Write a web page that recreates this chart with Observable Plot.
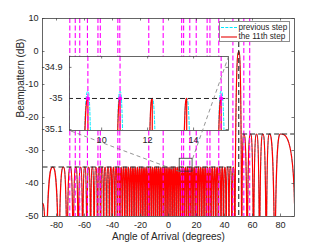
<!DOCTYPE html>
<html><head><meta charset="utf-8">
<script src="https://cdn.jsdelivr.net/npm/d3@7"></script>
<script src="https://cdn.jsdelivr.net/npm/@observablehq/plot@0.6"></script>
<style>
body{margin:0;background:#fff;}
#wrap{position:relative;width:325px;height:244px;overflow:hidden;font-family:"Liberation Sans",Arial,sans-serif;}
#wrap svg{position:absolute;}
#legend{position:absolute;left:219px;top:21px;width:71px;height:21px;border:0.8px solid #8c8c8c;background:#fff;box-sizing:border-box;}
#legend .sw{position:absolute;left:1px;width:16px;height:0;}
#legend .tx{position:absolute;left:18.5px;font-size:8.2px;line-height:10px;color:#262626;white-space:nowrap;}
</style></head>
<body><div id="wrap"></div>
<script>
// ---------------- data ----------------
const seriesNames = ["previous step", "the 11th step"];
const edgeAngles = [-90, 90];
const edgeDb = [-46, -46];
const nullFloorDb = -80;
const nullAngles = [-87.5, -78.3, -72.5, -68.1, -64.5, -61.3, -58.3, -55.6, -53.1, -50.7,
  -48.5, -46.3, -44.2, -42.2, -40.3, -38.4, -36.5, -34.7, -33.0, -31.2,
  -29.5, -27.8, -26.2, -24.6, -23.0, -21.4, -19.8, -18.3, -16.7, -15.2,
  -13.7, -12.2, -10.7, -9.2, -7.7, -6.2, -4.8, -3.3, -1.8, -0.4,
  1.1, 2.6, 4.0, 5.5, 7.0, 8.5, 10.1, 11.5, 13.0, 14.5,
  16.0, 17.5, 19.1, 20.6, 22.2, 23.8, 25.4, 27.0, 28.7, 30.4,
  32.1, 33.8, 35.6, 37.5, 39.3, 41.2, 43.2, 45.3,
  47.4, 52.3, 56.2, 60.7, 65.0, 69.8, 75.9];
const peakAngles = [-82.7, -75.1, -70.2, -66.2, -62.8, -59.8, -57.0, -54.4, -51.9, -49.6,
  -47.4, -45.3, -43.2, -41.2, -39.3, -37.4, -35.6, -33.8, -32.1, -30.4,
  -28.7, -27.0, -25.4, -23.8, -22.2, -20.6, -19.0, -17.5, -16.0, -14.4,
  -12.9, -11.4, -9.9, -8.5, -7.0, -5.5, -4.0, -2.6, -1.1, 0.4,
  1.8, 3.3, 4.8, 6.2, 7.7, 9.4, 10.8, 12.2, 13.7, 15.2,
  16.7, 18.3, 19.8, 21.4, 23.0, 24.6, 26.2, 27.9, 29.5, 31.2,
  33.0, 34.7, 36.5, 38.4, 40.3, 42.2, 44.2, 46.3,
  50.2, 53.8, 58.6, 62.9, 67.4, 72.1, 80.0];
const peakDb = [-35, -35, -35, -35, -35, -35, -35, -35, -35, -35,
  -35, -35, -35, -35, -35, -35, -35, -35, -35, -35,
  -35, -35, -35, -35, -35, -35, -35, -35, -35, -35,
  -35, -35, -35, -35, -35, -35, -35, -35, -35, -35,
  -35, -35, -35, -35, -35, -35, -35, -35, -35, -35,
  -35, -35, -35, -35, -35, -35, -35, -35, -35, -35,
  -35, -35, -35, -35, -35, -35, -35, -35,
  0, -25, -25, -25, -25, -25, -25];
const previousPeakAngles = [9.4, 10.8, 15.2];
const previousPeakDb = [-34.977, -34.977, -34.976];
const constraintAngles = [-70.5, -66.6, -63.4, -57.9, -50.4, -48.7, -36.2, -34.8, -14.1, -3.8,
  9.4, 10.8, 15.2, 19.8, 27.6, 29.6, 35.9, 46.0, 53.8, 58.0];
const targetAngles = [50.2];
const maskStart = [-90, 52.6];
const maskEnd = [46.2, 90];
const maskDb = [-35, -25];
const zoomBoxAngles = [8.0, 17.2];
const zoomBoxDb = [-36.4, -32.5];
const xTicks = [-80, -60, -40, -20, 0, 20, 40, 60, 80];
const yTicks = [-50, -40, -30, -20, -10, 0, 10];
const insetXTicks = [10, 12, 14];
const insetYTicks = [-35.1, -35, -34.9];
const xDomain = [-90, 90], yDomain = [-50, 10];
const insetXDomain = [8.6, 15.52], insetYDomain = [-35.103, -34.865];

// ---------------- layout / style ----------------
const W = 325, H = 244;
const M = {left: 42, right: 31, top: 18, bottom: 28};
const INS = {left: 69, top: 56, width: 159, height: 74, ml: 32, mr: 2, mt: 2, mb: 16};
const TICK_PX = 2.5;
const AX = "#404040";
const FONT = "'Liberation Sans', Arial, sans-serif";

// ---------------- tables built from the arrays ----------------
const current = [{a: edgeAngles[0], db: edgeDb[0]}];
peakAngles.forEach((p, i) => {
  current.push({a: nullAngles[i], db: nullFloorDb});
  current.push({a: p, db: peakDb[i]});
});
current.push({a: edgeAngles[1], db: edgeDb[1]});
const previous = current.map(d => {
  const j = previousPeakAngles.indexOf(d.a);
  return j >= 0 ? {a: d.a, db: previousPeakDb[j]} : d;
});
const maskAt = a => { for (let i = 0; i < maskDb.length; i++) if (a >= maskStart[i] && a <= maskEnd[i]) return maskDb[i]; return null; };

// beampattern-like lobe curve: steep near nulls, flat at peaks
function lobeCurve(context) {
  let px, py, n = 0;
  return {
    areaStart() {}, areaEnd() {},
    lineStart() { n = 0; },
    lineEnd() {},
    point(x, y) {
      x = +x; y = +y;
      if (n === 0) context.moveTo(x, y);
      else {
        const dx = x - px;
        if (y < py) context.bezierCurveTo(px + 0.1 * dx, y, px + 0.66 * dx, y, x, y);
        else context.bezierCurveTo(px + 0.34 * dx, py, px + 0.9 * dx, py, x, y);
      }
      px = x; py = y; n++;
    }
  };
}

function tickRules(xt, yt, xd, yd, w, h) {
  const tx = TICK_PX * (xd[1] - xd[0]) / w;
  const ty = TICK_PX * (yd[1] - yd[0]) / h;
  const o = {stroke: AX, strokeWidth: 0.7};
  return [
    Plot.ruleX(xt, {x: d => d, y1: () => yd[0], y2: () => yd[0] + ty, ...o}),
    Plot.ruleX(xt, {x: d => d, y1: () => yd[1], y2: () => yd[1] - ty, ...o}),
    Plot.ruleY(yt, {y: d => d, x1: () => xd[0], x2: () => xd[0] + tx, ...o}),
    Plot.ruleY(yt, {y: d => d, x1: () => xd[1], x2: () => xd[1] - tx, ...o})
  ];
}

function dataMarks(clip) {
  return [
    Plot.line(previous, {x: "a", y: "db", stroke: "#00e8ff", strokeWidth: 1, strokeDasharray: "3,2", curve: lobeCurve, clip}),
    Plot.line(current, {x: "a", y: "db", stroke: "#ff0000", strokeWidth: 1.2, curve: lobeCurve, clip}),
    Plot.ruleX(constraintAngles, {x: d => d, stroke: "#ff00ff", strokeWidth: 1.1, strokeDasharray: "5,2.5", clip}),
    Plot.ruleX(targetAngles, {x: d => d, stroke: "#111", strokeWidth: 1, strokeDasharray: "5,3", clip}),
    Plot.link(maskDb, {x1: (d, i) => maskStart[i], x2: (d, i) => maskEnd[i], y1: d => d, y2: d => d,
      stroke: "#222", strokeWidth: 1, strokeDasharray: "5,3", clip})
  ];
}

const wrap = document.getElementById("wrap");
const pw = W - M.left - M.right, ph = H - M.top - M.bottom;

// ---------------- main plot ----------------
const main = Plot.plot({
  width: W, height: H,
  marginLeft: M.left, marginRight: M.right, marginTop: M.top, marginBottom: M.bottom,
  style: {fontFamily: FONT, fontSize: "9.1px", color: "#262626", background: "transparent"},
  x: {domain: xDomain},
  y: {domain: yDomain},
  marks: [
    ...dataMarks(true),
    Plot.rect([0], {x1: () => zoomBoxAngles[0], x2: () => zoomBoxAngles[1], y1: () => zoomBoxDb[0], y2: () => zoomBoxDb[1],
      fill: "none", stroke: "#333", strokeWidth: 0.8}),
    ...tickRules(xTicks, yTicks, xDomain, yDomain, pw, ph),
    Plot.axisX({ticks: xTicks, tickSize: 0, tickPadding: 5, tickFormat: d => String(d), label: null}),
    Plot.axisY({ticks: yTicks, tickSize: 0, tickPadding: 4, tickFormat: d => String(d), label: null}),
    Plot.text(["Angle of Arrival (degrees)"], {frameAnchor: "bottom", dy: 23, fontSize: 10, fill: "#262626"}),
    Plot.text(["Beampattern (dB)"], {frameAnchor: "left", dx: -22, rotate: -90, fontSize: 10, fill: "#262626"}),
    Plot.frame({stroke: AX, strokeWidth: 0.8})
  ]
});
main.style.left = "0px"; main.style.top = "0px";
wrap.appendChild(main);

// ---------------- inset ----------------
const insetConstraint = constraintAngles.filter(a => a >= insetXDomain[0] && a <= insetXDomain[1]);
const inset = Plot.plot({
  width: INS.width + INS.ml + INS.mr, height: INS.height + INS.mt + INS.mb,
  marginLeft: INS.ml, marginRight: INS.mr, marginTop: INS.mt, marginBottom: INS.mb,
  style: {fontFamily: FONT, fontSize: "9.1px", color: "#262626", background: "transparent"},
  x: {domain: insetXDomain},
  y: {domain: insetYDomain},
  marks: [
    Plot.frame({fill: "white", stroke: null}),
    ...dataMarks(true),
    Plot.dot(insetConstraint, {x: d => d, y: d => maskAt(d), r: 2, fill: "#ff00ff", stroke: "none", clip: true}),
    ...tickRules(insetXTicks, insetYTicks, insetXDomain, insetYDomain, INS.width, INS.height),
    Plot.axisX({ticks: insetXTicks, tickSize: 0, tickPadding: 6, tickFormat: d => String(d), label: null}),
    Plot.axisY({ticks: insetYTicks, tickSize: 0, tickPadding: 7, tickFormat: d => String(d), label: null}),
    Plot.frame({stroke: AX, strokeWidth: 0.8})
  ]
});
inset.style.left = (INS.left - INS.ml) + "px"; inset.style.top = (INS.top - INS.mt) + "px";
wrap.appendChild(inset);

// ---------------- connectors (drawn on top of the inset) ----------------
const sx = main.scale("x"), sy = main.scale("y");
const invX = d3.scaleLinear().domain(sx.range).range(sx.domain);
const invY = d3.scaleLinear().domain(sy.range).range(sy.domain);
const cornerA = [invX(INS.left), invY(INS.top + INS.height)];
const cornerB = [invX(INS.left + INS.width), invY(INS.top)];
const overlay = Plot.plot({
  width: W, height: H,
  marginLeft: M.left, marginRight: M.right, marginTop: M.top, marginBottom: M.bottom,
  style: {background: "transparent", pointerEvents: "none"},
  x: {domain: xDomain, axis: null},
  y: {domain: yDomain, axis: null},
  marks: [
    Plot.link([0, 1], {
      x1: i => zoomBoxAngles[i], y1: i => zoomBoxDb[i],
      x2: i => (i === 0 ? cornerA : cornerB)[0], y2: i => (i === 0 ? cornerA : cornerB)[1],
      stroke: "#7a7a7a", strokeWidth: 0.8, strokeDasharray: "4,3"
    })
  ]
});
overlay.style.left = "0px"; overlay.style.top = "0px";
wrap.appendChild(overlay);

// ---------------- legend ----------------
const lg = document.createElement("div");
lg.id = "legend";
lg.innerHTML =
  `<div class="sw" style="top:5px;border-top:1.3px dashed #00e8ff"></div><div class="tx" style="top:0.5px">${seriesNames[0]}</div>` +
  `<div class="sw" style="top:13.8px;border-top:2.6px solid #f27676"></div><div class="tx" style="top:10.3px">${seriesNames[1]}</div>`;
wrap.appendChild(lg);
</script></body></html>
